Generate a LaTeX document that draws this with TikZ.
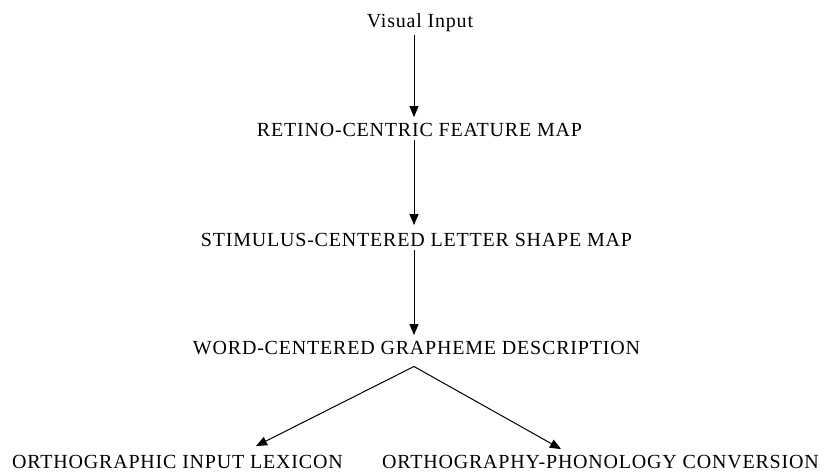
\documentclass[tikz,border=0pt]{standalone}
\usepackage{fontspec}
\setmainfont{Liberation Serif}[LetterSpace=4]
\usetikzlibrary{arrows.meta}
\begin{document}
\begin{tikzpicture}[x=1pt,y=1pt,
  label/.style={anchor=base,inner sep=0pt,font=\fontsize{20}{24}\selectfont},
  arr/.style={line width=1pt,-{Triangle[width=9pt,length=11pt]}}]
\useasboundingbox (0,0) rectangle (831,-473);
% processing stages, top to bottom
\node[label] (vis) at (420,-28)  {Visual Input};
\node[label] (ret) at (419.5,-137) {RETINO-CENTRIC FEATURE MAP};
\node[label] (stim) at (416.5,-247) {STIMULUS-CENTERED LETTER SHAPE MAP};
\node[label] (word) at (416.5,-355) {WORD-CENTERED GRAPHEME DESCRIPTION};
\node[label] (lex) at (177.5,-468) {ORTHOGRAPHIC INPUT LEXICON};
\node[label] (opc) at (600.5,-468) {ORTHOGRAPHY-PHONOLOGY CONVERSION};
% common vertical axis of the flow
\coordinate (stem) at (414,0);
% vertical flow
\draw[arr] ([yshift=-3pt]vis.south -| stem) -- ([yshift=6.5pt]ret.north -| stem);
\draw[arr] ([yshift=-3pt]ret.south -| stem) -- ([yshift=8.5pt]stim.north -| stem);
\draw[arr] ([yshift=-3pt]stim.south -| stem) -- ([yshift=6.5pt]word.north -| stem);
% branching
\coordinate (apex) at ([yshift=-11pt]word.south -| stem);
\draw[arr] (apex) -- ([xshift=78.5pt,yshift=8.5pt]lex.north);
\draw[arr] (apex) -- ([xshift=-39.5pt,yshift=5.5pt]opc.north);
\end{tikzpicture}
\end{document}
